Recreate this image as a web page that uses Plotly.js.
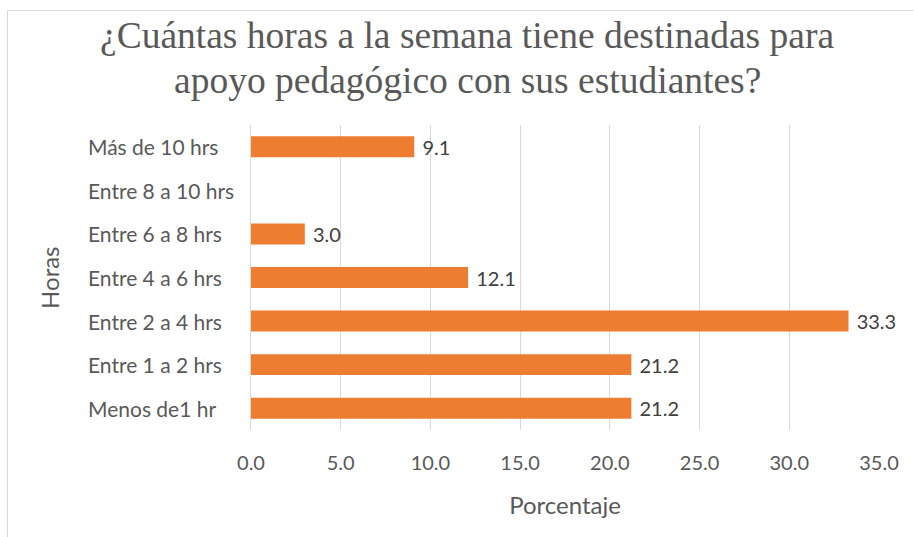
<!DOCTYPE html>
<html>
<head>
<meta charset="utf-8">
<script src="https://cdn.plot.ly/plotly-3.0.1.min.js"></script>
<style>
html,body{margin:0;padding:0;background:#fff;}
#wrap{position:relative;width:914px;height:537px;}
#chart{position:absolute;left:0;top:0;width:914px;height:537px;}
#frame{position:absolute;left:7px;top:10px;width:920px;height:540px;border-left:1px solid #d9d9d9;border-top:1px solid #d9d9d9;pointer-events:none;}
</style>
</head>
<body>
<div id="wrap"><div id="chart"></div><div id="frame"></div></div>
<script>
const categories = ["Menos de1 hr","Entre 1 a 2 hrs","Entre 2 a 4 hrs","Entre 4 a 6 hrs","Entre 6 a 8 hrs","Entre 8 a 10 hrs","Más de 10 hrs"];
const values = [21.2, 21.2, 33.3, 12.1, 3.0, null, 9.1];
const xTicks = [0, 5, 10, 15, 20, 25, 30, 35];
const titleLines = ["¿Cuántas horas a la semana tiene destinadas para", "apoyo pedagógico con sus estudiantes?"];
const xTitle = "Porcentaje";
const yTitle = "Horas";

const FONT = 'Lato, sans-serif';
const GREY = '#595959';

const trace = {
  type: 'bar',
  orientation: 'h',
  y: categories,
  x: values,
  marker: {color: '#ED7D31'},
  text: values.map(v => v === null ? '' : ' ' + v.toFixed(1)),
  textposition: 'outside',
  constraintext: 'none',
  textfont: {family: FONT, size: 20, color: '#404040'},
  cliponaxis: false,
  hoverinfo: 'none'
};

const annotations = [];
annotations.push({text: titleLines[0], xref: 'paper', yref: 'paper', x: 0.344, y: 1.295, xanchor: 'center', yanchor: 'middle', showarrow: false,
  font: {family: '"Liberation Serif", serif', size: 37.5, color: GREY}});
annotations.push({text: titleLines[1], xref: 'paper', yref: 'paper', x: 0.344, y: 1.1475, xanchor: 'center', yanchor: 'middle', showarrow: false,
  font: {family: '"Liberation Serif", serif', size: 37.5, color: GREY}});
categories.forEach(c => {
  annotations.push({text: c, xref: 'paper', yref: 'y', x: -0.263, y: c, xanchor: 'left', yanchor: 'middle', showarrow: false,
    font: {family: FONT, size: 21, color: GREY}});
});
annotations.push({text: yTitle, xref: 'paper', yref: 'paper', x: -0.321, y: 0.5, xanchor: 'center', yanchor: 'middle', textangle: -90, showarrow: false,
  font: {family: FONT, size: 24, color: GREY}});

const layout = {
  width: 914, height: 537,
  margin: {l: 251, r: 35, t: 125, b: 107},
  paper_bgcolor: '#fff', plot_bgcolor: '#fff',
  bargap: 0.52,
  showlegend: false,
  xaxis: {
    range: [0, 35],
    tickvals: xTicks,
    ticktext: xTicks.map(v => v.toFixed(1)),
    showgrid: true, gridcolor: '#d9d9d9', gridwidth: 1,
    zeroline: false, showline: false,
    ticks: '', ticklabelstandoff: 19,
    tickfont: {family: FONT, size: 20, color: GREY},
    title: {text: xTitle, font: {family: FONT, size: 24, color: GREY}, standoff: 24}
  },
  yaxis: {
    type: 'category',
    categoryorder: 'array', categoryarray: categories,
    showgrid: false, zeroline: false,
    showline: true, linecolor: '#d9d9d9', linewidth: 1,
    ticks: '', showticklabels: false
  },
  annotations: annotations
};

Plotly.newPlot('chart', [trace], layout, {displayModeBar: false, staticPlot: true});
</script>
</body>
</html>
